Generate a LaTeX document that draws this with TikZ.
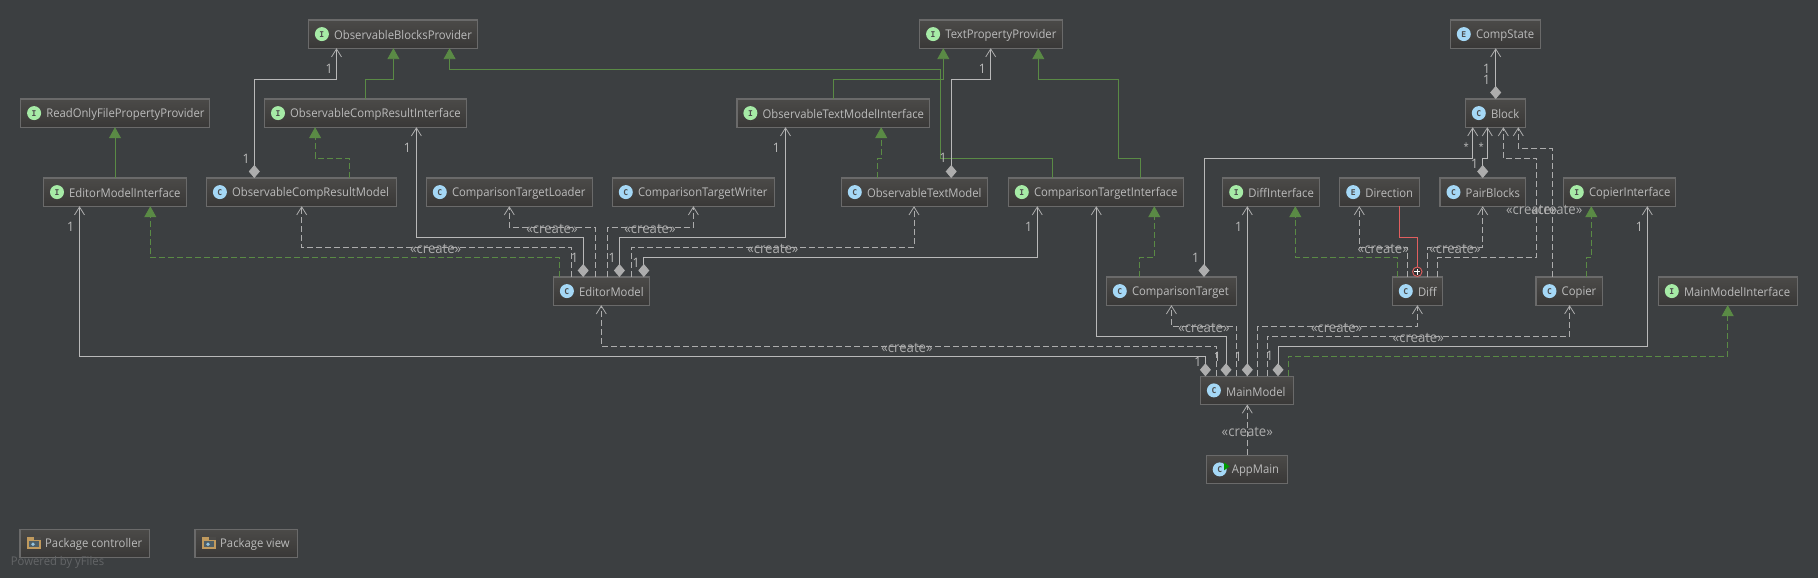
\documentclass[tikz,border=0pt]{standalone}
\usepackage{fontspec}
\setmainfont[FakeStretch=0.94]{Open Sans}
\newfontfamily\iconfont{DejaVu Sans Mono}
\usetikzlibrary{arrows.meta}
\definecolor{canvasbg}{HTML}{3C3F41}
\definecolor{boxtop}{HTML}{4B4A48}
\definecolor{boxbot}{HTML}{393837}
\definecolor{boxline}{HTML}{6A6A6A}
\definecolor{inktext}{HTML}{BBBBBB}
\definecolor{inkline}{HTML}{B9B9B9}
\definecolor{inkdash}{HTML}{ADADAD}
\definecolor{inkgreen}{HTML}{5A8A45}
\definecolor{inkred}{HTML}{E25F5F}
\definecolor{iconI}{HTML}{A6EBA6}
\definecolor{iconC}{HTML}{A5D8F6}
\definecolor{folder}{HTML}{C09A5E}
\tikzset{
  umlbox/.style={draw=boxline,line width=1.2pt,top color=boxtop,bottom color=boxbot,anchor=north west,inner sep=0pt,outer sep=0pt},
  boxtext/.style={right,yshift=-1.3pt,inner sep=0pt,text=inktext,font=\fontsize{12}{14}\selectfont},
  kindicon/.style={circle,inner sep=0pt,minimum size=14pt,text=black!70,font=\iconfont\bfseries\fontsize{8}{8}\selectfont},
  assoc/.style={draw=inkline,line width=1pt,-{Straight Barb[length=8pt,width=10pt,line width=0.8pt,color=inkdash]}},
  compo/.style={assoc,{Diamond[length=13pt,width=11pt,color=inkdash]}-{Straight Barb[length=8pt,width=10pt,line width=0.8pt,color=inkdash]}},
  depend/.style={draw=inkdash,line width=0.8pt,dash pattern=on 6pt off 3pt,-{Straight Barb[length=8pt,width=10pt,line width=0.8pt,color=inkdash]}},
  extend/.style={draw=inkgreen,line width=0.9pt,-{Triangle[length=11pt,width=12pt,color=inkgreen]}},
  realize/.style={extend,dash pattern=on 6pt off 3pt},
  multi/.style={inner sep=0pt,text=inktext,font=\fontsize{13}{13}\selectfont},
  createlabel/.style={inner sep=0pt,text=inkdash,font=\fontsize{14}{14}\selectfont},
}
\begin{document}
\begin{tikzpicture}[x=1pt,y=-1pt]
  \useasboundingbox (0,0) rectangle (1818,578);
  \fill[canvasbg] (0,0) rectangle (1818,578);
  % classes: name / left / top / right / letter / colour / text
  \foreach \nm/\l/\t/\r/\k/\col/\txt in {
    obp/308.4/20/477.7/I/iconI/ObservableBlocksProvider,
    tpp/919.6/20/1062.3/I/iconI/TextPropertyProvider,
    cstate/1450.3/20/1540.7/E/iconC/CompState,
    rofpp/20.6/99/209.6/I/iconI/ReadOnlyFilePropertyProvider,
    ocri/264.5/99/466.6/I/iconI/ObservableCompResultInterface,
    otmi/736.9/99/929.5/I/iconI/ObservableTextModelInterface,
    block/1465.3/99/1525.7/C/iconC/Block,
    emi/43.5/178/186.2/I/iconI/EditorModelInterface,
    ocrm/206.4/178/396.6/C/iconC/ObservableCompResultModel,
    ctl/426.3/178/592.3/C/iconC/ComparisonTargetLoader,
    ctw/612.3/178/774.5/C/iconC/ComparisonTargetWriter,
    otm/841.3/178/987.6/C/iconC/ObservableTextModel,
    cti/1008.3/178/1183.7/I/iconI/ComparisonTargetInterface,
    diffi/1222.7/178/1319.7/I/iconI/DiffInterface,
    direct/1339.7/178/1419.7/E/iconC/Direction,
    pair/1440/178/1525.7/C/iconC/PairBlocks,
    copi/1563.3/178/1675.7/I/iconI/CopierInterface,
    em/553.4/277/649.5/C/iconC/EditorModel,
    ct/1106.3/277/1236.3/C/iconC/ComparisonTarget,
    diff/1392.3/277/1442.7/C/iconC/Diff,
    copier/1536/277/1602.7/C/iconC/Copier,
    mmi/1658.3/277/1797.3/I/iconI/MainModelInterface,
    mm/1200.4/376.3/1293.7/C/iconC/MainModel,
    app/1206.2/455.3/1287.5/C/iconC/AppMain%
  }{
    \node[umlbox,minimum width={\r-\l},minimum height=28.2pt] (\nm) at (\l,\t) {};
    \node[kindicon,fill=\col] (\nm-icon) at ([xshift=13.5]\nm.west) {\k};
    \node[boxtext] (\nm-text) at ([xshift=25.5]\nm.west) {\txt};
  }
  \fill[green!60!black] ([xshift=4.3,yshift=7]app-icon.center) -- ++(5.5,4) -- ++(-5.5,4) -- cycle;
  % packages
  \foreach \nm/\l/\r/\txt in {pctl/20/149.6/Package controller,pview/195/297.8/Package view}{
    \node[umlbox,minimum width={\r-\l},minimum height=28pt] (\nm) at (\l,529.3) {};
    \node[boxtext] (\nm-text) at ([xshift=25]\nm.west) {\txt};
    \fill[folder] ([xshift=7,yshift=-6]\nm.west) rectangle ([xshift=21,yshift=6]\nm.west);
    \fill[boxtop] ([xshift=14,yshift=3.5]\nm.west) rectangle ([xshift=21,yshift=6.2]\nm.west);
    \fill[black!45!iconC!60!boxbot] ([xshift=9,yshift=-4]\nm.west) rectangle ([xshift=19,yshift=2]\nm.west);
    \fill[iconC!90!black] ([xshift=13,yshift=-1]\nm.west) circle (1.9);
  }
  \node[inner sep=0pt,right,text=white!20!canvasbg,font=\fontsize{12}{12}\selectfont] (yfiles) at (10.7,562) {Powered by yFiles};
  % inheritance
  \draw[extend] (emi.north -| 115,0) -- (rofpp.south -| 115,0);
  \draw[extend] (ocri.north -| 365.4,0) |- (393.4,79.3) -- (obp.south -| 393.4,0);
  \draw[extend] (otmi.north -| 833.4,0) |- (943.3,79.3) -- (tpp.south -| 943.3,0);
  \draw[extend] (cti.north -| 1052.7,0) |- (940.5,158.3) |- (449.6,69.5) -- (obp.south -| 449.6,0);
  \draw[extend] (cti.north -| 1140.3,0) |- (1118.7,158.3) |- (1038.3,79.3) -- (tpp.south -| 1038.3,0);
  \draw[realize] (ocrm.north -| 349.5,0) |- (315.1,158.3) -- (ocri.south -| 315.1,0);
  \draw[realize] (otm.north -| 877.3,0) |- (881.2,158.3) -- (otmi.south -| 881.2,0);
  \draw[realize] (em.north -| 559.5,0) |- (150.3,257.3) -- (emi.south -| 150.3,0);
  \draw[realize] (ct.north -| 1139.3,0) |- (1154.3,257.3) -- (cti.south -| 1154.3,0);
  \draw[realize] (diff.north -| 1397.7,0) |- (1295.3,257.3) -- (diffi.south -| 1295.3,0);
  \draw[realize] (copier.north -| 1586.3,0) |- (1591.3,257.3) -- (copi.south -| 1591.3,0);
  \draw[realize] (mm.north -| 1288.4,0) |- (1727.7,356.3) -- (mmi.south -| 1727.7,0);
  % composition
  \draw[compo] (ocrm.north -| 254.3,0) |- (336.5,79.3) -- (obp.south -| 336.5,0);
  \draw[compo] (otm.north -| 951.2,0) |- (990.7,79.3) -- (tpp.south -| 990.7,0);
  \draw[compo] (em.north -| 583.2,0) |- (416.4,237.3) -- (ocri.south -| 416.4,0);
  \draw[compo] (em.north -| 619.4,0) |- (785.5,237.3) -- (otmi.south -| 785.5,0);
  \draw[compo] (em.north -| 643.8,0) |- (1037.3,257.3) -- (cti.south -| 1037.3,0);
  \draw[compo] (mm.north -| 1205.4,0) |- (79.5,356.3) -- (emi.south -| 79.5,0);
  \draw[compo] (mm.north -| 1226,0) |- (1096.3,336.3) -- (cti.south -| 1096.3,0);
  \draw[compo] (mm.north -| 1247.3,0) -- (diffi.south -| 1247.3,0);
  \draw[compo] (mm.north -| 1278,0) |- (1647.3,346.3) -- (copi.south -| 1647.3,0);
  \draw[compo] (ct.north -| 1204,0) |- (1472.7,158.3) -- (block.south -| 1472.7,0);
  \draw[compo] (pair.north -| 1482.7,0) |- (1487.3,158.3) -- (block.south -| 1487.3,0);
  \draw[compo] (block.north -| 1495.7,0) -- (cstate.south -| 1495.7,0);
  % create
  \draw[depend] (em.north -| 571.4,0) |- (301.7,247.3) -- (ocrm.south -| 301.7,0);
  \draw[depend] (em.north -| 595.6,0) |- (509.3,227.3) -- (ctl.south -| 509.3,0);
  \draw[depend] (em.north -| 607.4,0) |- (693.4,227.3) -- (ctw.south -| 693.4,0);
  \draw[depend] (em.north -| 631.7,0) |- (914,247.3) -- (otm.south -| 914,0);
  \draw[depend] (mm.north -| 1216.5,0) |- (601.3,346.3) -- (em.south -| 601.3,0);
  \draw[depend] (mm.north -| 1236.6,0) |- (1171.4,326.3) -- (ct.south -| 1171.4,0);
  \draw[depend] (mm.north -| 1257.6,0) |- (1417.4,326.3) -- (diff.south -| 1417.4,0);
  \draw[depend] (mm.north -| 1267.4,0) |- (1569.6,336.3) -- (copier.south -| 1569.6,0);
  \draw[depend] (app.north -| 1247.3,0) -- (mm.south -| 1247.3,0);
  \draw[depend] (diff.north -| 1407.3,0) |- (1359.3,247.3) -- (direct.south -| 1359.3,0);
  \draw[depend] (diff.north -| 1427.3,0) |- (1482.7,247.3) -- (pair.south -| 1482.7,0);
  \draw[depend] (diff.north -| 1437.3,0) |- (1536.7,257.3) |- (1503.3,158.3) -- (block.south -| 1503.3,0);
  \draw[depend] (copier.north -| 1552.7,0) |- (1518.3,148.3) -- (block.south -| 1518.3,0);
  % nested class
  \node[circle,draw=inkred,fill=black!80,line width=0.9pt,minimum size=9.5pt,inner sep=0pt] (plus) at (1417.3,271.7) {};
  \draw[white,line width=0.8pt] ([xshift=-3]plus.center) -- ([xshift=3]plus.center) ([yshift=-3]plus.center) -- ([yshift=3]plus.center);
  \draw[inkred,line width=1pt] (direct.south -| 1399.3,0) |- (1417.3,237.3) -- (plus.north);
  % labels
  \foreach \x/\y [count=\i] in {329/69,246/158.7,407.3/147.7,574.5/257.5,776.4/147.7,612/257.5,1028.7/226.7,636/263,982.4/69,943/158,1195.7/257.7,1474.7/163.7,1486.7/69,1486.7/79.7,1238.7/226.7,1639.3/226.7,70.5/226.7,1197.8/361.7,1217.4/356.7,1238.4/356.7,1269.6/356}{
    \node[multi] (one\i) at (\x,\y) {1};
  }
  \foreach \x [count=\i] in {1466.3,1481.3}{
    \node[multi,font=\fontsize{10}{10}\selectfont] (many\i) at (\x,147) {*};
  }
  \foreach \x/\y [count=\i] in {552/229,650/229,435.7/248.5,772.9/248.5,907/348,1204/328.3,1336.6/328.3,1418.3/338,1247.3/432.3,1383.3/249,1455/249,1531.7/209.5,1556.7/209.5}{
    \node[createlabel] (create\i) at (\x,\y) {«create»};
  }
\end{tikzpicture}
\end{document}
